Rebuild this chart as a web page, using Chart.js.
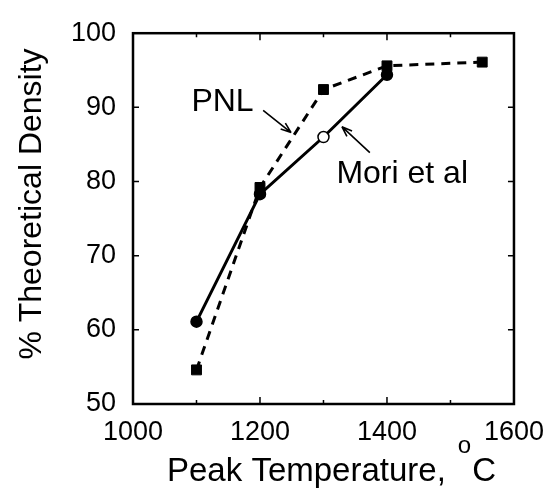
<!DOCTYPE html>
<html>
<head>
<meta charset="utf-8">
<script src="https://cdn.jsdelivr.net/npm/chart.js@4.4.0/dist/chart.umd.min.js"></script>
<style>
  html, body { margin: 0; padding: 0; background: #fff; }
  #wrap { width: 556px; height: 488px; }
</style>
</head>
<body>
<div id="wrap"><canvas id="chart" width="556" height="488"></canvas></div>
<script>
// densification vs. peak firing temperature
const pnlTemps = [1100, 1200, 1300, 1400, 1550];
const pnlDensity = [54.6, 79.2, 92.4, 95.6, 96.1];
const moriTemps = [1100, 1200, 1300, 1400];
const moriDensity = [61.1, 78.3, 86.0, 94.4];

const xTicks = [1000, 1200, 1400, 1600];
const xMinorTicks = [1100, 1300, 1500];
const yTicks = [50, 60, 70, 80, 90, 100];

// callout labels and arrows, in data units
const callouts = [
  { text: 'PNL', x: 1141, y: 90.7, from: [1205, 89.6], to: [1249, 86.6] },
  { text: 'Mori et al', x: 1424, y: 81.0, from: [1373, 83.9], to: [1329, 87.4] }
];

const FONT = '"Liberation Sans", Arial, Helvetica, sans-serif';

function toPoints(xs, ys) {
  return xs.map((x, i) => ({ x: x, y: ys[i] }));
}

// frame, inward tick marks, axis titles and callouts
const decorations = {
  id: 'decorations',
  afterDraw(chart) {
    const ctx = chart.ctx;
    const area = chart.chartArea;
    const xs = chart.scales.x;
    const ys = chart.scales.y;
    ctx.save();
    ctx.strokeStyle = '#000';
    ctx.fillStyle = '#000';

    // box
    ctx.lineWidth = 2.5;
    ctx.strokeRect(area.left, area.top, area.right - area.left, area.bottom - area.top);

    // ticks pointing inward
    ctx.lineWidth = 1.5;
    ctx.beginPath();
    xTicks.forEach(v => {
      const px = xs.getPixelForValue(v);
      ctx.moveTo(px, area.bottom); ctx.lineTo(px, area.bottom - 7);
      ctx.moveTo(px, area.top); ctx.lineTo(px, area.top + 7);
    });
    xMinorTicks.forEach(v => {
      const px = xs.getPixelForValue(v);
      ctx.moveTo(px, area.bottom); ctx.lineTo(px, area.bottom - 4);
      ctx.moveTo(px, area.top); ctx.lineTo(px, area.top + 4);
    });
    yTicks.forEach(v => {
      const py = ys.getPixelForValue(v);
      ctx.moveTo(area.left, py); ctx.lineTo(area.left + 6, py);
      ctx.moveTo(area.right, py); ctx.lineTo(area.right - 6, py);
    });
    ctx.stroke();

    // x title with raised degree "o"
    const big = '33px ' + FONT;
    const small = '24px ' + FONT;
    const mainText = 'Peak Temperature,';
    ctx.font = big;
    const w1 = ctx.measureText(mainText).width + 12;
    const w3 = ctx.measureText('C').width;
    ctx.font = small;
    const w2 = ctx.measureText('o').width + 1;
    const cx = (area.left + area.right) / 2 + 8;
    let tx = cx - (w1 + w2 + w3) / 2;
    const base = 481;
    ctx.textAlign = 'left';
    ctx.textBaseline = 'alphabetic';
    ctx.font = big;
    ctx.fillText(mainText, tx, base);
    tx += w1;
    ctx.font = small;
    ctx.fillText('o', tx, base - 28);
    tx += w2;
    ctx.font = big;
    ctx.fillText('C', tx, base);

    // y title
    ctx.save();
    ctx.translate(41, 204);
    ctx.rotate(-Math.PI / 2);
    ctx.textAlign = 'center';
    ctx.textBaseline = 'alphabetic';
    ctx.font = '32px ' + FONT;
    ctx.fillText('% Theoretical Density', 0, 0);
    ctx.restore();

    // callouts
    ctx.font = '32px ' + FONT;
    ctx.textAlign = 'center';
    ctx.textBaseline = 'middle';
    ctx.lineWidth = 1.6;
    callouts.forEach(l => {
      ctx.fillText(l.text, xs.getPixelForValue(l.x), ys.getPixelForValue(l.y));
      const x0 = xs.getPixelForValue(l.from[0]), y0 = ys.getPixelForValue(l.from[1]);
      const x1 = xs.getPixelForValue(l.to[0]), y1 = ys.getPixelForValue(l.to[1]);
      const ang = Math.atan2(y1 - y0, x1 - x0);
      const head = 11;
      ctx.beginPath();
      ctx.moveTo(x0, y0); ctx.lineTo(x1, y1);
      ctx.moveTo(x1, y1);
      ctx.lineTo(x1 - head * Math.cos(ang - 0.35), y1 - head * Math.sin(ang - 0.35));
      ctx.moveTo(x1, y1);
      ctx.lineTo(x1 - head * Math.cos(ang + 0.35), y1 - head * Math.sin(ang + 0.35));
      ctx.stroke();
    });

    ctx.restore();
  }
};

new Chart(document.getElementById('chart'), {
  type: 'scatter',
  data: {
    datasets: [
      {
        label: 'Mori et al',
        data: toPoints(moriTemps, moriDensity),
        showLine: true,
        borderColor: '#000',
        borderWidth: 3,
        pointStyle: 'circle',
        pointRadius: 5.5,
        pointBackgroundColor: ['#000', '#000', '#fff', '#000'],
        pointBorderColor: '#000',
        pointBorderWidth: 1.5
      },
      {
        label: 'PNL',
        data: toPoints(pnlTemps, pnlDensity),
        showLine: true,
        borderColor: '#000',
        borderWidth: 3,
        borderDash: [9, 7],
        pointStyle: 'rect',
        pointRadius: 7,
        pointBackgroundColor: '#000',
        pointBorderColor: '#000',
        pointBorderWidth: 1
      }
    ]
  },
  options: {
    responsive: false,
    animation: false,
    devicePixelRatio: 1,
    layout: { padding: { left: 0, right: 38, top: 23, bottom: 0 } },
    plugins: {
      legend: { display: false },
      tooltip: { enabled: false }
    },
    scales: {
      x: {
        type: 'linear',
        min: 1000,
        max: 1600,
        afterBuildTicks: s => { s.ticks = xTicks.map(v => ({ value: v })); },
        afterFit: s => { s.height = 84; },
        grid: { display: false, drawTicks: false },
        border: { display: false },
        ticks: {
          color: '#000',
          font: { family: FONT, size: 27 },
          padding: 12,
          maxRotation: 0,
          callback: v => String(v)
        }
      },
      y: {
        min: 50,
        max: 100,
        afterBuildTicks: s => { s.ticks = yTicks.map(v => ({ value: v })); },
        afterFit: s => { s.width = 133; },
        grid: { display: false, drawTicks: false },
        border: { display: false },
        ticks: { color: '#000', font: { family: FONT, size: 27 }, padding: 17 }
      }
    }
  },
  plugins: [decorations]
});
</script>
</body>
</html>
